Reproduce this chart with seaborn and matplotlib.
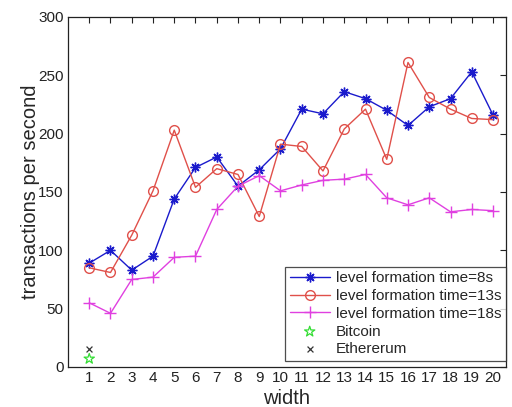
import numpy as np
import pandas as pd
import matplotlib
matplotlib.use("Agg")
import matplotlib.pyplot as plt
import seaborn as sns

widths = list(range(1, 21))
tps_8s = [89, 100, 83, 95, 144, 171, 180, 155, 169, 187, 221, 217, 236, 230, 220, 207, 223, 230, 253, 216]
tps_13s = [85, 81, 113, 151, 203, 154, 170, 165, 129, 191, 189, 168, 204, 221, 178, 261, 231, 221, 213, 212]
tps_18s = [55, 46, 75, 77, 94, 95, 135, 155, 164, 151, 156, 160, 161, 165, 145, 139, 145, 133, 135, 134]
bitcoin_x, bitcoin_y = [1], [7]
ether_x, ether_y = [1], [15]
series_names = ["level formation time=8s", "level formation time=13s", "level formation time=18s"]

sns.set_style("white")
plt.rcParams['font.family'] = ['Liberation Sans', 'DejaVu Sans']

fig = plt.figure(figsize=(5.12, 4.07), dpi=100)
ax = fig.add_axes([0.1328, 0.0983, 0.855, 0.86])

df = pd.DataFrame({"width": widths * 3,
                   "tps": tps_8s + tps_13s + tps_18s,
                   "series": sum([[n] * 20 for n in series_names], [])})

colors = ["#1a1acc", "#e0504a", "#e040e0"]
markers = [(8, 2, 0), "o", "+"]
msizes = [7, 7, 9]
for name, c, m, ms in zip(series_names, colors, markers, msizes):
    sub = df[df.series == name]
    kw = dict(markerfacecolor="none") if m == "o" else {}
    sns.lineplot(data=sub, x="width", y="tps", ax=ax, color=c, marker=m,
                 markersize=ms, markeredgecolor=c, markeredgewidth=1.0,
                 linewidth=1.0, label=name, **kw)

sns.scatterplot(x=bitcoin_x, y=bitcoin_y, ax=ax, marker="*", s=60,
                facecolor="none", edgecolor="#33dd33", linewidth=0.9, label="Bitcoin")
sns.scatterplot(x=ether_x, y=ether_y, ax=ax, marker="x", s=18,
                color="#333333", linewidth=0.9, label="Ethererum")

ax.set_xlim(0, 20.6)
ax.set_ylim(0, 300)
ax.set_xticks(widths)
ax.set_yticks([0, 50, 100, 150, 200, 250, 300])
ax.tick_params(direction="in", top=True, right=True, length=4, width=0.8,
               labelsize=11, colors="#222222", pad=3)
for s in ax.spines.values():
    s.set_color("#222222")
    s.set_linewidth(0.9)
ax.set_xlabel("width", fontsize=14.5, labelpad=3)
ax.set_ylabel("transactions per second", fontsize=14.5, labelpad=-1)

leg = ax.legend(loc="lower right", bbox_to_anchor=(1.0, 0.017), borderaxespad=0,
                fontsize=11, frameon=True, fancybox=False, edgecolor="#222222",
                handlelength=2.6, handletextpad=0.4, borderpad=0.3, labelspacing=0.25)
leg.get_frame().set_linewidth(0.9)

fig.savefig("out.png", dpi=100)
